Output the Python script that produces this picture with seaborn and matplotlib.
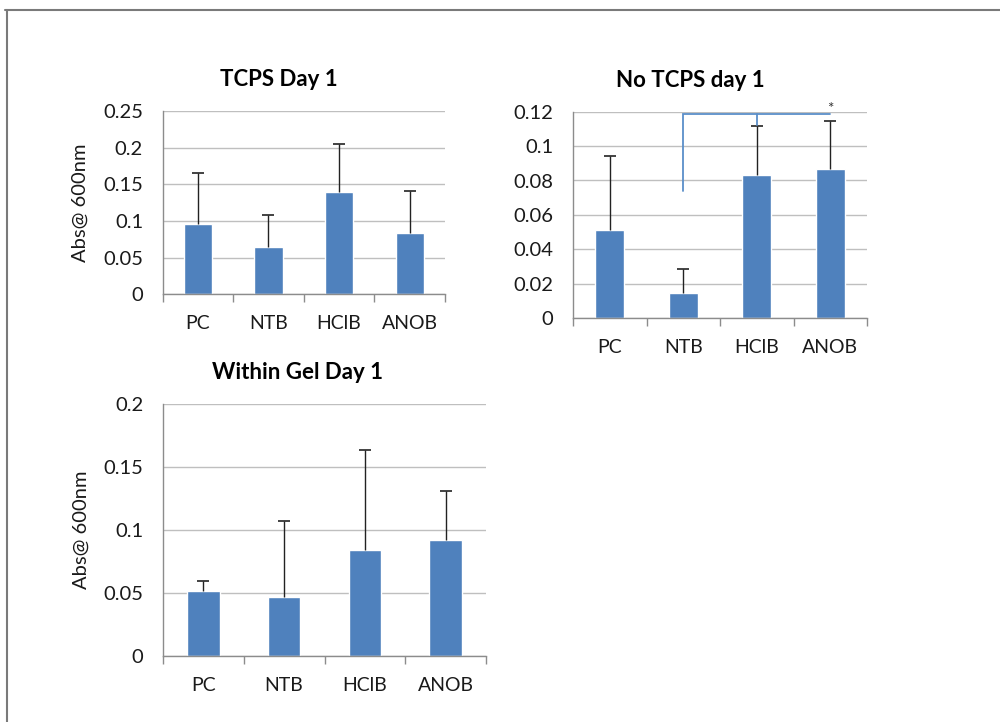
import numpy as np
import pandas as pd
import matplotlib
matplotlib.use("Agg")
import matplotlib.pyplot as plt
from matplotlib.ticker import FuncFormatter, MultipleLocator, FixedLocator
from matplotlib.lines import Line2D
import seaborn as sns

# ---- data ----
groups = ["PC", "NTB", "HClB", "ANOB"]

tcps_mean = [0.096, 0.064, 0.139, 0.083]
tcps_err = [0.070, 0.044, 0.066, 0.058]

no_tcps_mean = [0.051, 0.0145, 0.083, 0.0865]
no_tcps_err = [0.0434, 0.0141, 0.0287, 0.0279]

gel_mean = [0.052, 0.047, 0.084, 0.092]
gel_err = [0.008, 0.060, 0.080, 0.039]

# significance bracket on the "No TCPS" panel (NTB vs HClB / ANOB)
sig_from = "NTB"
sig_to = ["HClB", "ANOB"]
sig_top = 0.1183
sig_low = 0.074
sig_tick = 0.112
sig_star_y = 0.1215

BAR = "#4F81BD"
GRID = "#bfbfbf"
AXIS = "#8c8c8c"
TXT = "#1a1a1a"

sns.set_theme(style="white")
plt.rcParams["font.family"] = ["Lato", "DejaVu Sans"]


def panel(fig, rect, title, mean, err, step, ymax, title_x, ylabel=True):
    ax = fig.add_axes(rect)
    df = pd.DataFrame({"group": groups, "abs": mean, "err": err})
    sns.barplot(data=df, x="group", y="abs", color=BAR, saturation=1,
                width=0.4, errorbar=None, ax=ax, zorder=2)
    eb = ax.errorbar(np.arange(len(groups)), df["abs"],
                     yerr=[np.zeros(len(groups)), df["err"]],
                     fmt="none", ecolor="#222222", elinewidth=1,
                     capsize=4, capthick=1.2, zorder=3)
    eb[1][0].set_visible(False)  # no lower caps, like Excel

    ax.set_ylim(0, ymax)
    ax.set_xlim(-0.5, len(groups) - 0.5)
    ax.yaxis.set_major_locator(MultipleLocator(step))
    ax.yaxis.set_major_formatter(FuncFormatter(lambda v, p: f"{round(v, 4):g}"))
    ax.grid(axis="y", color=GRID, linewidth=1)
    ax.set_axisbelow(True)

    for s in ["top", "right"]:
        ax.spines[s].set_visible(False)
    for s in ["left", "bottom"]:
        ax.spines[s].set_color(AXIS)
        ax.spines[s].set_linewidth(1)

    ax.xaxis.set_minor_locator(FixedLocator(np.arange(len(groups) + 1) - 0.5))
    ax.tick_params(axis="x", which="minor", length=6, color=AXIS, width=1, bottom=True)
    ax.tick_params(axis="x", which="major", length=0, pad=15, labelsize=14, labelcolor=TXT)
    ax.tick_params(axis="y", length=0, pad=14, labelsize=14.5, labelcolor=TXT)

    ax.set_xlabel("")
    if ylabel:
        ax.set_ylabel("Abs@ 600nm", fontsize=14.5, color=TXT, labelpad=10)
    else:
        ax.set_ylabel("")
    ax.set_title(title, x=title_x, pad=18, fontsize=16, fontweight="bold", color="black")
    return ax


fig = plt.figure(figsize=(10, 7.22), dpi=100)

ax1 = panel(fig, [0.1625, 0.5925, 0.2825, 0.2535], "TCPS Day 1",
            tcps_mean, tcps_err, 0.05, 0.25, 0.41)
ax2 = panel(fig, [0.573, 0.559, 0.294, 0.2865], "No TCPS day 1",
            no_tcps_mean, no_tcps_err, 0.02, 0.12, 0.40, ylabel=False)
ax3 = panel(fig, [0.163, 0.0914, 0.323, 0.3486], "Within Gel Day 1",
            gel_mean, gel_err, 0.05, 0.2, 0.415)

# significance bracket
i0 = groups.index(sig_from)
i_mid = groups.index(sig_to[0])
i1 = groups.index(sig_to[1])
bcol = "#5b8fc9"
ax2.plot([i0, i0, i1], [sig_low, sig_top, sig_top], color=bcol, lw=1.3,
         solid_joinstyle="miter", zorder=4, clip_on=False)
ax2.plot([i_mid, i_mid], [sig_top, sig_tick], color=bcol, lw=1.3, zorder=4)
ax2.text(i1, sig_star_y, "*", ha="center", va="center", fontsize=11, color="#333333")

# outer frame lines (top and left edges of the scanned figure)
fig.add_artist(Line2D([0.005, 1.0], [1 - 10 / 722] * 2, transform=fig.transFigure,
                      color="#7a7a7a", lw=1.5))
fig.add_artist(Line2D([0.007, 0.007], [0.0, 1 - 10 / 722], transform=fig.transFigure,
                      color="#7a7a7a", lw=1.5))

fig.savefig("out.png", dpi=100, facecolor="white")
